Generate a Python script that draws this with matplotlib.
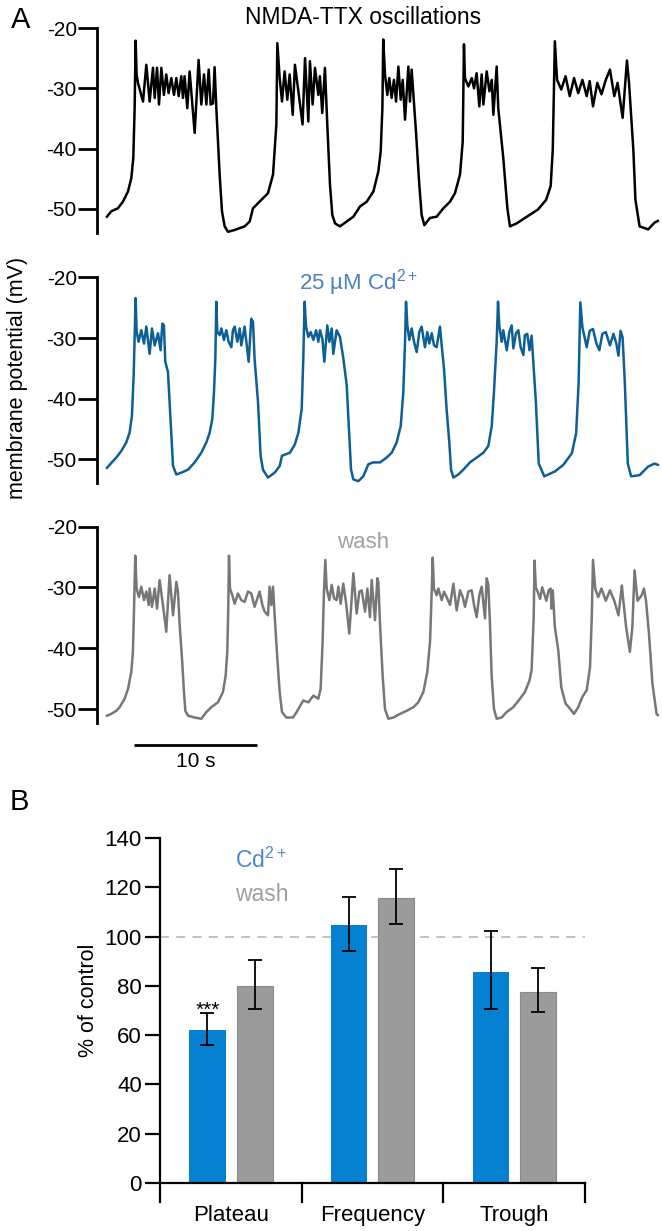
import numpy as np
import matplotlib.pyplot as plt

plt.rcParams['font.family'] = ['Liberation Sans', 'DejaVu Sans']
plt.rcParams['mathtext.fontset'] = 'custom'
plt.rcParams['mathtext.rm'] = 'Liberation Sans'
plt.rcParams['mathtext.it'] = 'Liberation Sans:italic'

# ---- panel A: membrane potential traces, (time s, mV) ----
ctrl = [
    (0.0, -51.3), (0.35, -50.4), (0.89, -49.9), (1.30, -48.8), (1.71, -47.1), (1.98, -44.9), (2.14, -41.6),
    (2.25, -33.3), (2.33, -22.1), (2.41, -27.7), (2.52, -29.1), (2.93, -32.2), (3.20, -26.1), (3.47, -32.2),
    (3.74, -26.6), (3.88, -31.6), (4.07, -26.6), (4.23, -32.7), (4.42, -26.6), (4.63, -31.1), (4.82, -27.7),
    (5.01, -30.8), (5.23, -28.3), (5.45, -31.1), (5.64, -28.3), (5.83, -31.3), (6.04, -28.0), (6.18, -31.6),
    (6.31, -28.0), (6.53, -33.3), (6.72, -27.2), (7.13, -37.4), (7.45, -25.3), (7.67, -32.7), (7.89, -27.7),
    (8.08, -32.7), (8.27, -26.9), (8.43, -32.7), (8.62, -32.5), (8.75, -26.5), (8.89, -33.3), (9.16, -44.3),
    (9.35, -50.4), (9.57, -52.9), (9.84, -53.8), (10.38, -53.5), (11.19, -52.9), (11.60, -52.1), (11.87, -49.9),
    (12.41, -48.8), (13.09, -47.4), (13.50, -44.3), (13.77, -36.0), (13.85, -22.5), (14.04, -28.3), (14.23, -32.2),
    (14.44, -27.2), (14.66, -31.9), (14.85, -27.7), (15.10, -34.4), (15.28, -26.1), (15.56, -30.5), (15.90, -36.0),
    (16.10, -25.0), (16.37, -35.5), (16.50, -25.5), (16.72, -32.7), (16.91, -26.6), (17.18, -31.1), (17.31, -28.0),
    (17.50, -34.1), (17.72, -26.6), (17.91, -36.0), (18.13, -46.0), (18.32, -51.0), (18.54, -52.4), (18.94, -52.9),
    (19.49, -52.1), (20.03, -51.3), (20.57, -49.6), (21.12, -48.8), (21.66, -47.1), (22.06, -43.8), (22.25, -40.5),
    (22.39, -33.3), (22.46, -21.9), (22.60, -27.7), (22.79, -31.1), (22.95, -28.3), (23.14, -31.6), (23.33, -28.6),
    (23.50, -32.2), (23.69, -26.4), (23.88, -31.9), (24.04, -28.6), (24.23, -35.2), (24.50, -26.4), (24.63, -32.2),
    (24.77, -26.9), (25.12, -37.2), (25.39, -46.0), (25.58, -51.0), (25.80, -52.7), (26.26, -51.5), (26.80, -51.3),
    (27.35, -49.9), (27.89, -48.8), (28.29, -47.4), (28.70, -44.3), (28.92, -38.8), (29.02, -22.7), (29.10, -28.3),
    (29.38, -29.7), (29.65, -28.3), (29.84, -30.0), (30.05, -27.5), (30.27, -33.0), (30.46, -27.7), (30.60, -32.7),
    (30.87, -27.2), (31.09, -30.5), (31.28, -28.6), (31.41, -34.4), (31.68, -26.4), (31.81, -33.3), (32.22, -41.6),
    (32.55, -49.9), (32.76, -52.9), (33.31, -52.4), (33.98, -51.5), (35.04, -50.1), (35.70, -48.5), (36.07, -46.2),
    (36.24, -40.2), (36.41, -22.2), (36.59, -28.6), (36.93, -30.2), (37.28, -28.0), (37.62, -31.3), (37.97, -28.3),
    (38.31, -30.8), (38.65, -28.6), (39.00, -31.3), (39.24, -28.8), (39.51, -33.0), (39.86, -29.1), (40.20, -31.0),
    (40.55, -28.6), (40.89, -26.9), (41.24, -31.3), (41.51, -29.1), (41.92, -34.9), (42.27, -25.4), (42.44, -29.1),
    (42.79, -40.2), (42.96, -48.5), (43.30, -52.9), (44.00, -53.4), (44.50, -52.3), (44.78, -52.0),
]

cd = [
    (0.0, -51.4), (0.35, -50.6), (0.76, -49.7), (1.17, -48.6), (1.57, -47.2), (1.84, -45.6), (2.03, -42.8),
    (2.17, -36.2), (2.25, -29.5), (2.33, -23.4), (2.41, -28.9), (2.57, -30.6), (2.79, -28.7), (3.01, -30.9),
    (3.20, -28.1), (3.47, -32.6), (3.66, -28.4), (3.88, -31.2), (4.15, -29.2), (4.36, -32.0), (4.50, -27.6),
    (4.63, -27.9), (4.74, -33.9), (4.96, -35.6), (5.09, -40.6), (5.23, -46.1), (5.37, -51.1), (5.64, -52.5),
    (6.04, -52.2), (6.59, -51.7), (7.13, -50.5), (7.67, -48.9), (8.08, -47.2), (8.35, -45.6), (8.56, -43.4),
    (8.70, -38.9), (8.81, -33.4), (8.89, -24.0), (8.97, -29.0), (9.16, -29.5), (9.30, -28.4), (9.51, -30.3),
    (9.70, -28.7), (9.89, -30.6), (10.11, -31.5), (10.24, -28.7), (10.38, -28.1), (10.60, -30.6), (10.79, -28.4),
    (10.92, -31.2), (11.19, -28.1), (11.52, -33.9), (11.73, -26.8), (11.87, -27.3), (12.00, -33.4), (12.28, -40.6),
    (12.49, -49.4), (12.68, -51.7), (13.09, -53.0), (13.63, -52.2), (14.04, -51.1), (14.23, -49.4), (14.88, -48.9),
    (15.28, -47.5), (15.56, -45.6), (15.83, -41.7), (15.96, -33.4), (16.07, -24.0), (16.18, -28.1), (16.37, -29.8),
    (16.56, -29.0), (16.78, -30.3), (17.00, -28.7), (17.18, -30.6), (17.32, -28.7), (17.51, -30.1), (17.67, -33.9),
    (17.91, -27.9), (18.08, -30.6), (18.27, -28.4), (18.40, -32.6), (18.67, -28.7), (18.94, -29.8), (19.22, -33.4),
    (19.49, -37.8), (19.70, -46.1), (19.84, -51.7), (20.03, -53.3), (20.43, -53.6), (20.84, -52.8), (21.25, -50.8),
    (21.66, -50.5), (22.20, -50.5), (22.74, -49.7), (23.15, -48.9), (23.55, -47.2), (23.88, -44.5), (24.09, -38.9),
    (24.23, -30.6), (24.31, -24.0), (24.42, -27.9), (24.58, -30.3), (24.77, -28.4), (24.96, -30.6), (25.18, -32.3),
    (25.39, -29.0), (25.58, -28.1), (25.85, -31.5), (26.04, -29.0), (26.20, -30.9), (26.40, -29.2), (26.59, -31.2),
    (26.80, -31.5), (27.07, -28.1), (27.21, -31.2), (27.40, -35.1), (27.61, -41.7), (27.83, -47.2), (27.97, -51.7),
    (28.16, -53.0), (28.56, -52.5), (28.97, -51.7), (29.51, -50.5), (30.05, -49.7), (30.60, -48.9), (31.00, -47.8),
    (31.28, -44.5), (31.46, -38.9), (31.68, -30.6), (31.79, -24.0), (31.90, -28.1), (32.09, -30.6), (32.22, -28.7),
    (32.50, -32.0), (32.71, -29.0), (32.90, -27.9), (33.04, -31.7), (33.25, -29.2), (33.44, -28.7), (33.63, -31.5),
    (33.85, -32.8), (33.98, -29.5), (34.17, -29.3), (34.35, -32.0), (34.52, -29.6), (34.86, -40.3), (35.10, -50.7),
    (35.55, -52.8), (36.41, -52.0), (37.10, -50.9), (37.79, -49.0), (38.14, -45.7), (38.34, -37.5), (38.48, -24.1),
    (38.65, -28.2), (39.00, -31.5), (39.24, -28.8), (39.51, -28.5), (39.79, -30.9), (40.03, -32.0), (40.27, -29.3),
    (40.55, -29.0), (40.89, -31.2), (41.17, -29.3), (41.41, -30.9), (41.58, -32.9), (41.75, -28.8), (41.92, -29.9),
    (42.10, -37.5), (42.34, -50.7), (42.61, -52.8), (43.30, -52.6), (43.99, -51.2), (44.50, -50.7), (44.78, -50.9),
]

wash = [
    (0.0, -51.1), (0.35, -50.8), (0.76, -50.3), (1.03, -49.7), (1.44, -48.3), (1.71, -46.7), (1.98, -43.9),
    (2.11, -40.6), (2.20, -33.5), (2.30, -24.8), (2.41, -30.2), (2.60, -31.6), (2.79, -29.9), (3.01, -32.1),
    (3.20, -30.7), (3.39, -32.9), (3.47, -30.2), (3.66, -33.2), (3.88, -30.2), (4.07, -33.5), (4.28, -28.8),
    (4.55, -32.9), (4.82, -37.3), (5.09, -28.0), (5.37, -34.6), (5.64, -29.1), (5.77, -30.7), (5.91, -36.2),
    (6.10, -41.7), (6.26, -47.2), (6.37, -50.3), (6.59, -51.1), (7.13, -51.4), (7.67, -51.6), (8.08, -50.5),
    (8.48, -49.7), (9.02, -48.9), (9.43, -47.2), (9.65, -44.5), (9.78, -40.6), (9.86, -33.5), (9.92, -24.8),
    (10.00, -30.2), (10.19, -31.3), (10.38, -32.7), (10.65, -31.0), (10.92, -32.1), (11.19, -32.4), (11.46, -30.7),
    (11.73, -31.0), (12.00, -33.2), (12.41, -30.7), (12.63, -32.9), (12.82, -34.0), (13.09, -34.6), (13.22, -29.9),
    (13.36, -32.9), (13.50, -29.9), (13.63, -34.6), (13.85, -41.7), (14.04, -47.2), (14.23, -50.5), (14.58, -51.4),
    (15.12, -51.4), (15.42, -50.5), (15.96, -48.6), (16.37, -48.9), (16.78, -47.8), (17.18, -48.3), (17.37, -46.7),
    (17.53, -39.0), (17.64, -30.7), (17.75, -25.5), (17.86, -30.2), (18.08, -32.1), (18.27, -29.6), (18.46, -31.8),
    (18.67, -32.1), (18.81, -29.9), (19.00, -32.7), (19.21, -29.4), (19.43, -32.4), (19.70, -37.6), (20.03, -27.7),
    (20.30, -34.3), (20.52, -30.7), (20.71, -30.5), (20.98, -34.0), (21.17, -30.2), (21.38, -34.9), (21.52, -28.8),
    (21.79, -35.4), (21.98, -28.5), (22.06, -29.1), (22.20, -36.2), (22.41, -44.5), (22.60, -50.0), (22.87, -51.6),
    (23.28, -51.4), (23.82, -50.8), (24.36, -50.3), (24.91, -49.7), (25.31, -48.9), (25.72, -47.2), (26.04, -43.9),
    (26.26, -39.0), (26.40, -30.7), (26.48, -25.1), (26.58, -30.2), (26.80, -31.3), (26.94, -30.2), (27.21, -32.1),
    (27.40, -30.7), (27.61, -31.6), (27.89, -32.9), (28.16, -29.4), (28.43, -33.8), (28.70, -30.5), (28.92, -31.6),
    (29.11, -33.2), (29.38, -30.7), (29.65, -30.5), (29.84, -32.9), (30.05, -34.9), (30.27, -31.3), (30.46, -29.9),
    (30.73, -35.1), (30.87, -28.5), (31.00, -29.6), (31.14, -36.2), (31.27, -44.5), (31.46, -50.0), (31.68, -51.6),
    (32.08, -51.4), (32.49, -50.5), (33.03, -49.7), (33.58, -48.3), (33.98, -47.2), (34.35, -45.3), (34.52, -43.6),
    (34.69, -34.9), (34.76, -25.6), (34.86, -30.0), (35.03, -30.8), (35.21, -31.9), (35.38, -30.0), (35.55, -31.1),
    (35.72, -32.2), (35.90, -30.5), (36.07, -30.2), (36.14, -33.5), (36.24, -30.5), (36.41, -36.5), (36.69, -40.4),
    (36.93, -46.4), (37.28, -49.1), (37.62, -49.9), (37.97, -50.8), (38.31, -49.7), (38.65, -48.0), (39.00, -46.9),
    (39.27, -43.1), (39.41, -34.9), (39.51, -25.5), (39.69, -30.2), (39.93, -31.6), (40.20, -30.2), (40.55, -32.2),
    (40.89, -30.5), (41.24, -32.2), (41.58, -34.6), (41.86, -29.7), (41.92, -31.1), (42.20, -36.5), (42.51, -40.6),
    (42.71, -36.5), (42.89, -27.2), (43.13, -32.2), (43.47, -31.3), (43.65, -30.2), (43.82, -32.2), (44.06, -37.6),
    (44.34, -45.8), (44.68, -50.8), (44.78, -51.0),
]

yticks_mv = [-50, -40, -30, -20]

# ---- panel B: % of control ----
categories = ['Plateau', 'Frequency', 'Trough']
cd_mean = [62.1, 104.5, 85.7]
cd_lo = [56.0, 94.2, 70.5]
cd_hi = [69.1, 116.0, 102.1]
wash_mean = [80.0, 115.7, 77.7]
wash_lo = [70.6, 105.2, 69.5]
wash_hi = [90.5, 127.5, 87.1]

W, H = 662, 1231
fig = plt.figure(figsize=(W / 100, H / 100), dpi=100)


def px_axes(left, top, right, bottom):
    return fig.add_axes([left / W, 1 - bottom / H, (right - left) / W, (bottom - top) / H])


def ftext(x, y, s, **kw):
    return fig.text(x / W, 1 - y / H, s, **kw)


panels = [
    (ctrl, 'black', -54.0, 28, 233),
    (cd, '#0d5f95', -53.9, 277.5, 483),
    (wash, '#777777', -52.3, 526.5, 723),
]
trace_axes = []
for data, col, ymin, top, bottom in panels:
    ax = px_axes(97, top, 662, bottom)
    arr = np.array(data)
    ax.plot(arr[:, 0], arr[:, 1], color=col, lw=1.8)
    ax.set_xlim(-0.81, 45.12)
    ax.set_ylim(ymin, -20)
    for s in ['top', 'right', 'bottom']:
        ax.spines[s].set_visible(False)
    ax.spines['left'].set_linewidth(2.0)
    ax.set_xticks([])
    ax.set_yticks(yticks_mv)
    ax.set_yticklabels([str(v) for v in yticks_mv])
    ax.tick_params(axis='y', direction='out', length=13.5, width=2.0, labelsize=15, pad=1)
    trace_axes.append(ax)

# 10 s scale bar under the last trace
ax3 = trace_axes[2]
ax3.plot([2.2, 12.2], [-55.9, -55.9], color='black', lw=2.0, clip_on=False, solid_capstyle='butt')
ax3.text(7.2, -57.0, '10 s', ha='center', va='top', fontsize=15)

ftext(21, 20, 'A', fontsize=21, ha='center', va='center')
ftext(363, 18, 'NMDA-TTX oscillations', fontsize=16.5, ha='center', va='center')
ftext(358, 283, '25 µM Cd$^{\\mathrm{2+}}$', fontsize=16, ha='center', va='center', color='#4a80c4')
ftext(363, 542, 'wash', fontsize=16, ha='center', va='center', color='#a0a0a0')
ftext(18, 378, 'membrane potential (mV)', fontsize=15.5, ha='center', va='center', rotation=90)

# ---- bar chart ----
ftext(19, 802, 'B', fontsize=21, ha='center', va='center')
bx = px_axes(160, 838, 585, 1202)
ymin_b = -7.7
x = np.arange(len(categories))
cd_err = [np.array(cd_mean) - np.array(cd_lo), np.array(cd_hi) - np.array(cd_mean)]
wash_err = [np.array(wash_mean) - np.array(wash_lo), np.array(wash_hi) - np.array(wash_mean)]
bx.bar(x + 0.335, cd_mean, width=0.255, color='#0680d0', yerr=cd_err,
       error_kw=dict(ecolor='black', elinewidth=1.3, capsize=5, capthick=1.3), zorder=2)
bx.bar(x + 0.668, wash_mean, width=0.255, color='#9b9b9b', edgecolor='#8a8a8a', linewidth=0.8, yerr=wash_err,
       error_kw=dict(ecolor='black', elinewidth=1.3, capsize=5, capthick=1.3), zorder=2)
bx.axhline(100, color='#bdbdbd', lw=1.3, ls=(0, (5, 4)), zorder=1)
bx.plot([0, 3], [0, 0], color='black', lw=1.6, clip_on=False, zorder=3)
for xd in [1, 2, 3]:
    bx.plot([xd, xd], [ymin_b, 0], color='black', lw=1.6, clip_on=False, zorder=3)
bx.set_xlim(0, 3)
bx.set_ylim(ymin_b, 140)
for s in ['top', 'right', 'bottom']:
    bx.spines[s].set_visible(False)
bx.spines['left'].set_linewidth(1.6)
bx.set_yticks(range(0, 141, 20))
bx.tick_params(axis='y', direction='out', length=11, width=1.6, labelsize=16, pad=2)
bx.set_xticks(x + 0.5)
bx.set_xticklabels(categories, fontsize=16)
bx.tick_params(axis='x', length=0, pad=2)
bx.text(0.335, 68, '***', ha='center', va='baseline', fontsize=15)
bx.text(0.53, 131, 'Cd$^{\\mathrm{2+}}$', color='#4a88cc', fontsize=16.5, va='center')
bx.text(0.53, 117, 'wash', color='#a0a0a0', fontsize=16.5, va='center')
ftext(89, 1000, '% of control', fontsize=15.5, ha='center', va='center', rotation=90)

fig.savefig('out.png', dpi=100)
